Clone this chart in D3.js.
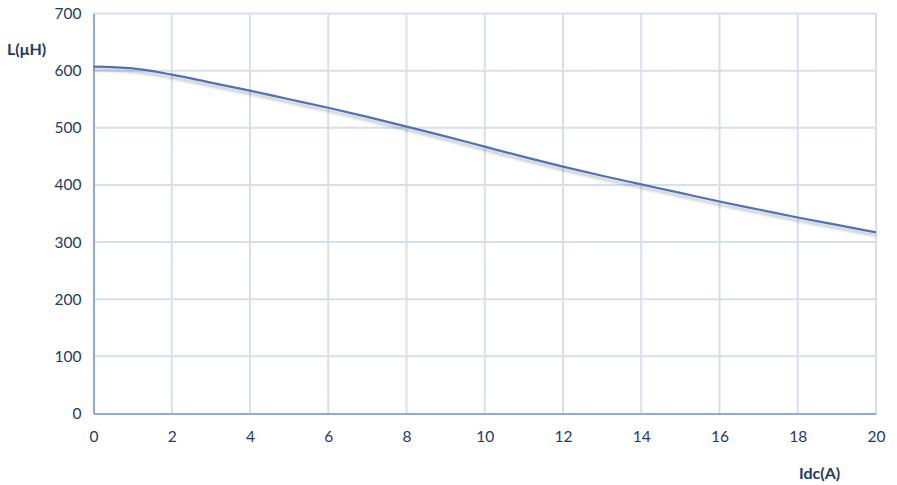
<!DOCTYPE html>
<html><head><meta charset="utf-8">
<script src="https://cdn.jsdelivr.net/npm/d3@7"></script>
<style>body{margin:0;background:#fff}svg{display:block}text{font-family:Lato,"Open Sans",sans-serif}</style>
</head><body>
<svg id="c" width="897" height="485"></svg>
<script>
const currents = [0, 1, 2, 3, 4, 5, 6, 7, 8, 9, 10, 11, 12, 13, 14, 15, 16, 17, 18, 19, 20];
const inductance = [607, 604, 593, 579, 565, 550, 535, 519, 502, 485, 467, 449, 432, 416, 401, 386, 371, 357, 343, 330, 317];
const xTicks = [0, 2, 4, 6, 8, 10, 12, 14, 16, 18, 20];
const yTicks = [0, 100, 200, 300, 400, 500, 600, 700];

const svg = d3.select("#c");
const L = 93.5, R = 876, T = 13.5, B = 413.5;
const x = d3.scaleLinear().domain([0, 20]).range([L, R]);
const y = d3.scaleLinear().domain([0, 700]).range([B, T]);

const defs = svg.append("defs");
const f = defs.append("filter").attr("id", "sh").attr("x", "-5%").attr("y", "-20%").attr("width", "110%").attr("height", "160%");
f.append("feGaussianBlur").attr("in", "SourceAlpha").attr("stdDeviation", 1.6).attr("result", "b");
f.append("feOffset").attr("in", "b").attr("dx", 0).attr("dy", 3).attr("result", "o");
f.append("feComponentTransfer").attr("in", "o").attr("result", "o2").append("feFuncA").attr("type", "linear").attr("slope", 0.28);
const m = f.append("feMerge");
m.append("feMergeNode").attr("in", "o2");
m.append("feMergeNode").attr("in", "SourceGraphic");

// grid
svg.append("g").selectAll("line.v").data(xTicks.filter(d => d > 0)).join("line")
  .attr("x1", d => x(d)).attr("x2", d => x(d)).attr("y1", T).attr("y2", B)
  .attr("stroke", "#d6dfeb").attr("stroke-width", 2);
svg.append("g").selectAll("line.h").data(yTicks.filter(d => d > 0)).join("line")
  .attr("x1", L).attr("x2", R).attr("y1", d => y(d)).attr("y2", d => y(d))
  .attr("stroke", "#d6dfeb").attr("stroke-width", 2);

// axes
const xAxis = d3.axisBottom(x).tickValues(xTicks).tickSize(0).tickPadding(17).tickFormat(d3.format("d"));
const gx = svg.append("g").attr("transform", `translate(0,${B})`).call(xAxis);
gx.select(".domain").attr("stroke", "#93aacb").attr("stroke-width", 2);
gx.selectAll("text").attr("fill", "#243a60").attr("font-size", 15.5);

const yAxis = d3.axisLeft(y).tickValues(yTicks).tickSize(0).tickPadding(12).tickFormat(d3.format("d"));
const gy = svg.append("g").attr("transform", `translate(${L},0)`).call(yAxis);
gy.select(".domain").attr("stroke", "#93aacb").attr("stroke-width", 2);
gy.selectAll("text").attr("fill", "#243a60").attr("font-size", 15.5);

// line
const line = d3.line().x((d, i) => x(currents[i])).y(d => y(d)).curve(d3.curveMonotoneX);
svg.append("path").datum(inductance).attr("d", line)
  .attr("fill", "none").attr("stroke", "#4d72b5").attr("stroke-width", 2.2).attr("filter", "url(#sh)");

// axis titles
svg.append("text").attr("x", 7).attr("y", 55).attr("font-size", 16).attr("font-weight", "bold").attr("fill", "#243a60").text("L(μH)");
svg.append("text").attr("x", 799).attr("y", 479).attr("font-size", 16).attr("font-weight", "bold").attr("fill", "#243a60").text("Idc(A)");
</script>
</body></html>
